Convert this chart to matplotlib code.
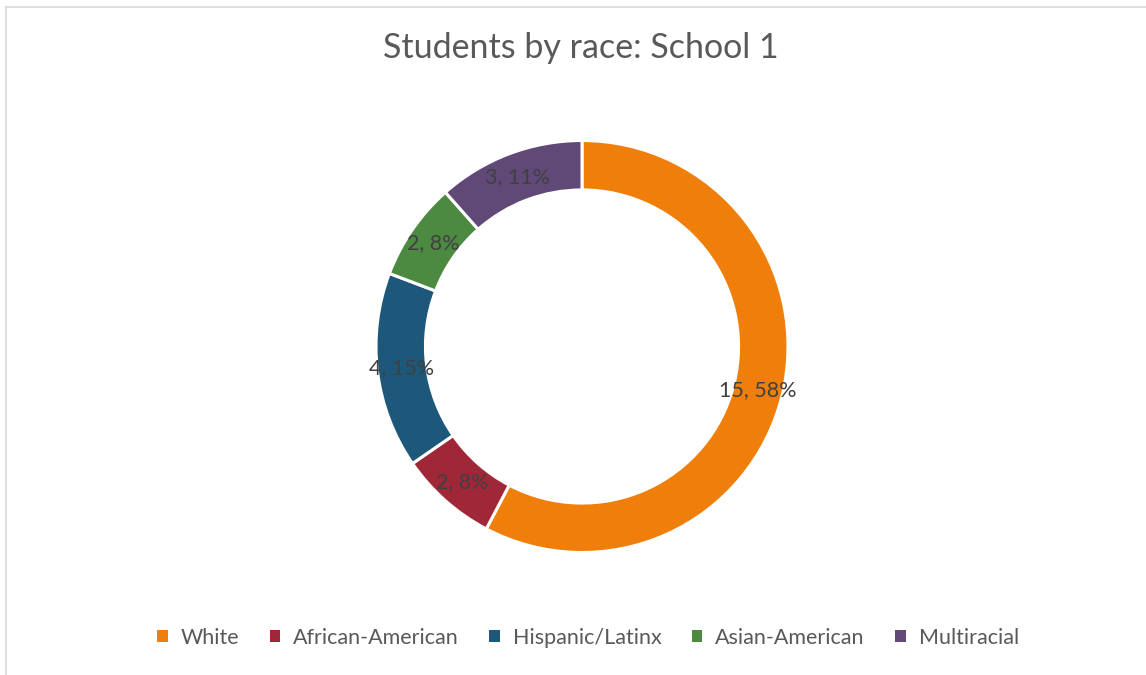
import matplotlib
matplotlib.use("Agg")
import matplotlib.pyplot as plt
from matplotlib.patches import Patch
from matplotlib.lines import Line2D
import numpy as np

# Состав учащихся по расе
categories = ["White", "African-American", "Hispanic/Latinx", "Asian-American", "Multiracial"]
counts = [15, 2, 4, 2, 3]
pct_labels = ["58%", "8%", "15%", "8%", "11%"]
colors = ["#EF7F0A", "#A02737", "#1D5779", "#4D8A41", "#604877"]

W, H, DPI = 1146, 675, 100
fig = plt.figure(figsize=(W / DPI, H / DPI), dpi=DPI)
plt.rcParams["font.family"] = ["Lato", "DejaVu Sans"]

# Оси на всю фигуру, 1 единица = радиус кольца
R_PX = 206
cx, cy = 582, 346.5
ax = fig.add_axes([0, 0, 1, 1])

ring_width = 0.24
wedges, _ = ax.pie(counts, colors=colors, startangle=90, counterclock=False,
                   radius=1.0,
                   wedgeprops=dict(width=ring_width, edgecolor="white", linewidth=2.2))

# pie() сам выставляет пределы, поэтому задаём их после
ax.set_xlim(-cx / R_PX, (W - cx) / R_PX)
ax.set_ylim(-(H - cy) / R_PX, cy / R_PX)
ax.axis("off")

# Подписи "значение, процент" по середине кольца
mid_r = 1 - ring_width / 2
for w, n, p in zip(wedges, counts, pct_labels):
    ang = np.deg2rad((w.theta1 + w.theta2) / 2)
    ax.text(mid_r * np.cos(ang), mid_r * np.sin(ang), f"{n}, {p}",
            ha="center", va="center", fontsize=15.5, color="#404040")

fig.text(581 / W, 1 - 48 / H, "Students by race: School 1", ha="center", va="center",
         fontsize=24.5, color="#595959")

handles = [Patch(facecolor=c, edgecolor="none") for c in colors]
fig.legend(handles, categories, loc="center", bbox_to_anchor=(588 / W, 1 - 638 / H),
           ncol=5, frameon=False, fontsize=15.5, labelcolor="#595959",
           handlelength=0.5, handleheight=0.5, handletextpad=0.6, columnspacing=1.4)

# Рамка области диаграммы
fig.add_artist(Line2D([5.5 / W, 1], [1 - 6.5 / H] * 2, color="#D9D9D9", linewidth=1.2))
fig.add_artist(Line2D([5.5 / W] * 2, [0, 1 - 6.5 / H], color="#D9D9D9", linewidth=1.2))

fig.savefig("out.png", dpi=DPI, facecolor="white")
